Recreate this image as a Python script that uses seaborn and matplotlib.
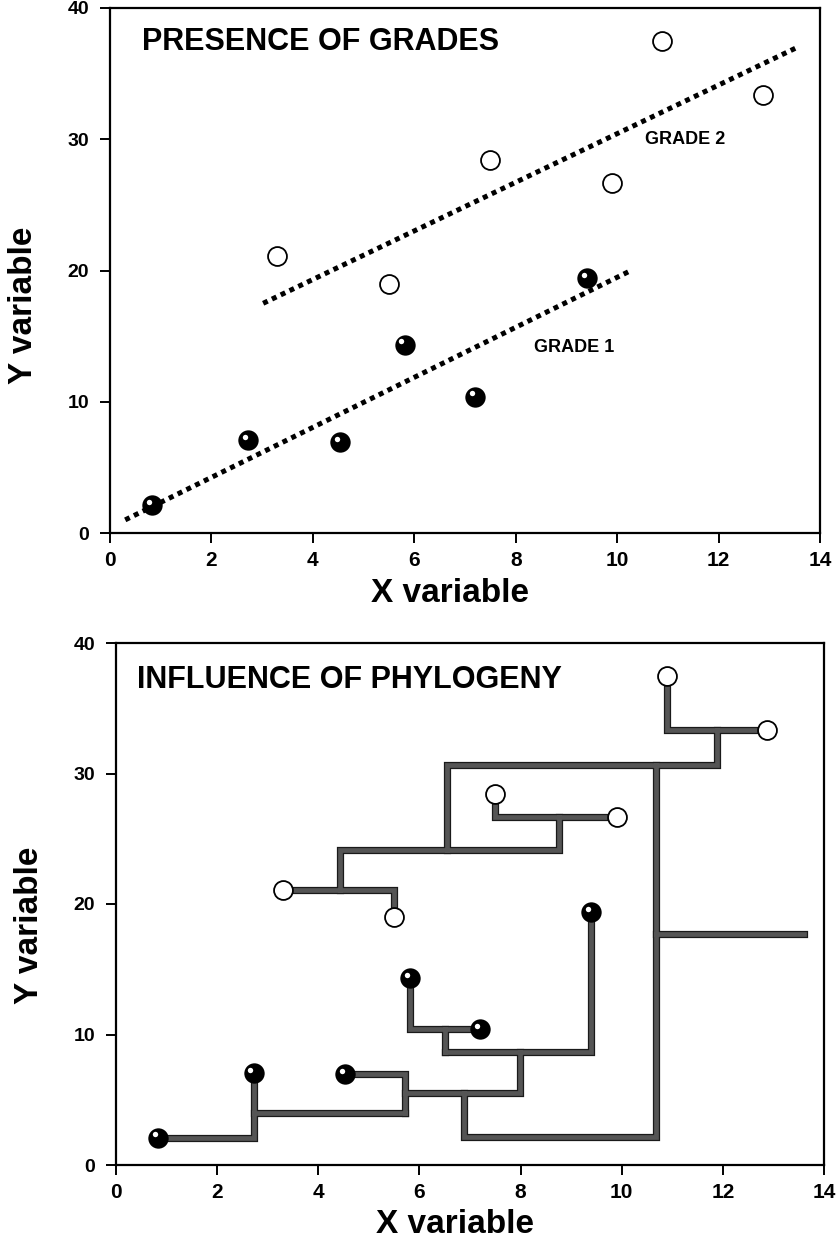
import numpy as np
import matplotlib
matplotlib.use("Agg")
import matplotlib.pyplot as plt
from matplotlib.transforms import ScaledTranslation
import seaborn as sns

# ---------------- data ----------------
black_x = [0.83, 2.72, 4.53, 5.81, 7.20, 9.40]
black_y = [2.1, 7.05, 6.95, 14.35, 10.4, 19.4]
open_x = [3.30, 5.50, 7.49, 9.90, 10.89, 12.87]
open_y = [21.1, 19.0, 28.45, 26.7, 37.5, 33.35]

grade1_x = [0.30, 10.22]
grade1_y = [1.0, 19.9]
grade2_x = [3.02, 13.55]
grade2_y = [17.5, 37.0]

nan = np.nan
# phylogeny branches (NaN separates branches)
tree_x = [0.83, 2.72, 2.72, nan,
          2.72, 5.71, nan,
          4.53, 5.71, 5.71, nan,
          5.71, 7.98, 7.98, nan,
          6.50, 9.40, 9.40, nan,
          6.50, 6.50, nan,
          5.81, 5.81, 7.20, nan,
          6.88, 6.88, 10.68, 10.68, nan,
          10.68, 13.60, nan,
          6.54, 6.54, 11.88, 11.88, 12.87, nan,
          10.89, 10.89, 11.88, nan,
          4.43, 4.43, 8.76, 8.76, 9.90, nan,
          7.49, 7.49, 8.76, nan,
          3.30, 5.50, 5.50]
tree_y = [2.1, 2.1, 7.05, nan,
          3.95, 3.95, nan,
          6.95, 6.95, 3.95, nan,
          5.5, 5.5, 8.66, nan,
          8.66, 8.66, 19.4, nan,
          8.66, 10.4, nan,
          14.35, 10.4, 10.4, nan,
          5.5, 2.15, 2.15, 30.65, nan,
          17.7, 17.7, nan,
          24.1, 30.65, 30.65, 33.35, 33.35, nan,
          37.5, 33.35, 33.35, nan,
          21.1, 24.1, 24.1, 26.7, 26.7, nan,
          28.45, 26.7, 26.7, nan,
          21.1, 21.1, 19.0]

x_ticks = [0, 2, 4, 6, 8, 10, 12, 14]
y_ticks = [0, 10, 20, 30, 40]
titles = ["PRESENCE OF GRADES", "INFLUENCE OF PHYLOGENY"]
grade_labels = ["GRADE 1", "GRADE 2"]
x_label = "X variable"
y_label = "Y variable"

# ---------------- style ----------------
sns.set_theme(style="ticks")
plt.rcParams["font.family"] = ["Liberation Sans", "DejaVu Sans"]
plt.rcParams["font.weight"] = "bold"

W, H = 838, 1243
fig = plt.figure(figsize=(W / 100, H / 100), dpi=100)
ax1 = fig.add_axes([110 / W, 1 - 533 / H, 710 / W, 525 / H])
ax2 = fig.add_axes([116 / W, 1 - 1165 / H, 708 / W, 522 / H])

hl_off = ScaledTranslation(-0.032, 0.032, fig.dpi_scale_trans)


def style_axes(ax, ylab_y):
    ax.set_xlim(0, 14)
    ax.set_ylim(0, 40)
    ax.set_xticks(x_ticks)
    ax.set_yticks(y_ticks)
    ax.set_xticklabels([str(t) for t in x_ticks], fontsize=15, fontweight="bold")
    ax.set_yticklabels([str(t) for t in y_ticks], fontsize=14, fontweight="bold")
    ax.tick_params(axis="both", direction="out", length=7, width=1.4,
                   color="black", labelcolor="black")
    ax.tick_params(axis="x", pad=6)
    ax.tick_params(axis="y", pad=8)
    for sp in ax.spines.values():
        sp.set_visible(True)
        sp.set_linewidth(1.6)
        sp.set_color("black")
    ax.set_facecolor("white")
    ax.set_xlabel(x_label, fontsize=24, fontweight="bold", color="black")
    ax.set_ylabel(y_label, fontsize=24, fontweight="bold", color="black")
    ax.xaxis.set_label_coords(0.479, -0.085)
    ax.yaxis.set_label_coords(-0.10, ylab_y)


def draw_points(ax):
    sns.scatterplot(x=black_x, y=black_y, ax=ax, s=215, color="black",
                    edgecolor="black", linewidth=0, zorder=5, legend=False)
    ax.scatter(black_x, black_y, s=15, color="white", linewidths=0, zorder=6,
               transform=ax.transData + hl_off)
    sns.scatterplot(x=open_x, y=open_y, ax=ax, s=185, color="white",
                    edgecolor="black", linewidth=1.3, zorder=5, legend=False)


# ---------------- top panel ----------------
for gx, gy in [(grade1_x, grade1_y), (grade2_x, grade2_y)]:
    ax1.plot(gx, gy, color="black", lw=3.6, linestyle=(0, (1.0, 0.95)),
             dash_capstyle="butt", zorder=3)
draw_points(ax1)
ax1.text(0.63, 37.4, titles[0], fontsize=22, fontweight="bold",
         ha="left", va="center", color="black")
ax1.text(9.15, 14.1, grade_labels[0], fontsize=13, fontweight="bold",
         ha="center", va="center", color="black")
ax1.text(11.35, 30.0, grade_labels[1], fontsize=13, fontweight="bold",
         ha="center", va="center", color="black")
style_axes(ax1, 0.434)

# ---------------- bottom panel ----------------
ax2.plot(tree_x, tree_y, color="#1a1a1a", lw=5.2, solid_capstyle="projecting",
         solid_joinstyle="miter", zorder=2)
ax2.plot(tree_x, tree_y, color="#555555", lw=3.4, solid_capstyle="projecting",
         solid_joinstyle="miter", zorder=3)
draw_points(ax2)
ax2.text(0.41, 37.2, titles[1], fontsize=22, fontweight="bold",
         ha="left", va="center", color="black")
style_axes(ax2, 0.46)

fig.savefig("out.png", dpi=100, facecolor="white")
